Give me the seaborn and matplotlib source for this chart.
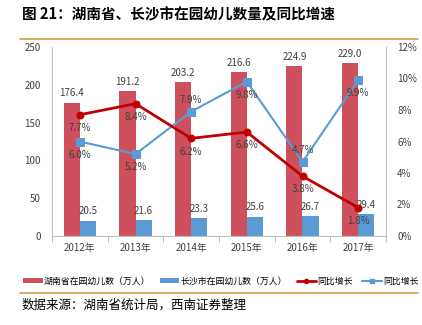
import numpy as np
import pandas as pd
import matplotlib
matplotlib.use("Agg")
import matplotlib.pyplot as plt
import seaborn as sns
from matplotlib.lines import Line2D
from matplotlib.patches import Patch

years = ["2012年", "2013年", "2014年", "2015年", "2016年", "2017年"]
hunan = [176.4, 191.2, 203.2, 216.6, 224.9, 229.0]
changsha = [20.5, 21.6, 23.3, 25.6, 26.7, 29.4]
hunan_growth = [7.7, 8.4, 6.2, 6.6, 3.8, 1.8]
changsha_growth = [6.0, 5.2, 7.9, 9.8, 4.7, 9.9]

series_names = ["湖南省在园幼儿数（万人）", "长沙市在园幼儿数（万人）", "同比增长", "同比增长"]
title = "图 21：湖南省、长沙市在园幼儿数量及同比增速"
source = "数据来源：湖南省统计局，西南证券整理"

sns.set_theme(style="white")
plt.rcParams["font.family"] = ["Noto Sans CJK SC", "DejaVu Sans"]

RED_BAR = "#CD505C"
BLUE_BAR = "#5B9BD5"
RED_LINE = "#C00000"
BLUE_LINE = "#5B9BD5"
TXT = "#404040"
GOLD = "#D39B45"

df = pd.DataFrame({
    "year": years * 2,
    "value": hunan + changsha,
    "series": [series_names[0]] * len(years) + [series_names[1]] * len(years),
})

fig = plt.figure(figsize=(4.22, 3.25), dpi=100)
ax = fig.add_axes([52 / 422, 1 - 236 / 325, (386 - 52) / 422, (236 - 47) / 325])

sns.barplot(data=df, x="year", y="value", hue="series", palette=[RED_BAR, BLUE_BAR],
            width=0.58, dodge=True, ax=ax, legend=False, saturation=1, edgecolor="none")

ax.set_ylim(0, 250)
ax.set_yticks(range(0, 251, 50))
ax.set_xlim(-0.5, len(years) - 0.5)
ax.set_xlabel("")
ax.set_ylabel("")
ax.tick_params(axis="y", labelsize=7, colors=TXT, length=0, pad=8)
ax.tick_params(axis="x", labelsize=7, colors=TXT, length=0, pad=5)
ax.set_xticks(np.arange(-0.5, len(years) + 0.5, 1), minor=True)
ax.tick_params(axis="x", which="minor", bottom=True, length=4, color="#BFBFBF", width=0.8)

for c in ax.containers:
    vals = [f"{v:.1f}" for v in c.datavalues]
    ax.bar_label(c, labels=vals, padding=3, fontsize=7, color=TXT)

ax2 = ax.twinx()
xpos = np.arange(len(years))
sns.lineplot(x=xpos, y=changsha_growth, ax=ax2, color=BLUE_LINE, linewidth=1.5,
             marker="s", markersize=6, markeredgecolor=BLUE_LINE, zorder=3)
sns.lineplot(x=xpos, y=hunan_growth, ax=ax2, color=RED_LINE, linewidth=2,
             marker="o", markersize=5, markeredgecolor=RED_LINE, zorder=4)
ax2.set_ylim(0, 12)
ax2.set_yticks(range(0, 13, 2))
ax2.set_yticklabels([f"{v}%" for v in range(0, 13, 2)])
ax2.tick_params(axis="y", labelsize=7, colors=TXT, length=0, pad=8)
ax2.set_xlim(-0.5, len(years) - 0.5)
ax2.grid(False)
ax.grid(False)

for a in (ax, ax2):
    for s in a.spines.values():
        s.set_visible(False)
ax.spines["left"].set_visible(True)
ax.spines["bottom"].set_visible(True)
ax2.spines["right"].set_visible(True)
for s in (ax.spines["left"], ax.spines["bottom"], ax2.spines["right"]):
    s.set_color("#BFBFBF")
    s.set_linewidth(0.8)

for i, v in enumerate(hunan_growth):
    ax2.annotate(f"{v:.1f}%", (i, v), xytext=(0, -6), textcoords="offset points",
                 ha="center", va="top", fontsize=7, color=TXT)
blue_above = [False, False, True, False, True, False]
for i, v in enumerate(changsha_growth):
    if blue_above[i]:
        ax2.annotate(f"{v:.1f}%", (i, v), xytext=(0, 5), textcoords="offset points",
                     ha="center", va="bottom", fontsize=7, color=TXT)
    else:
        ax2.annotate(f"{v:.1f}%", (i, v), xytext=(0, -6), textcoords="offset points",
                     ha="center", va="top", fontsize=7, color=TXT)

fig.text(22 / 422, 1 - 14 / 325, title, fontsize=10.5, fontweight="bold", color="#000000",
         ha="left", va="center")
fig.add_artist(Line2D([20 / 422, 418 / 422], [1 - 39 / 325, 1 - 39 / 325],
                      color=GOLD, linewidth=1.2, transform=fig.transFigure))
fig.add_artist(Line2D([20 / 422, 418 / 422], [1 - 293 / 325, 1 - 293 / 325],
                      color=GOLD, linewidth=1.2, transform=fig.transFigure))

handles = [
    Patch(facecolor=RED_BAR, edgecolor="none"),
    Patch(facecolor=BLUE_BAR, edgecolor="none"),
    Line2D([], [], color=RED_LINE, linewidth=2, marker="o", markersize=3),
    Line2D([], [], color=BLUE_LINE, linewidth=1.5, marker="s", markersize=3.5),
]
fig.legend(handles, series_names, loc="center", bbox_to_anchor=(0.523, 1 - 281 / 325),
           ncol=4, frameon=False, fontsize=6.4, handlelength=2.2, handleheight=0.5,
           handletextpad=0.1, columnspacing=1.1, labelcolor="#000000")

fig.text(22 / 422, 1 - 305 / 325, source, fontsize=9, color="#000000", ha="left",
         va="center", style="italic")

fig.savefig("out.png", dpi=100)
